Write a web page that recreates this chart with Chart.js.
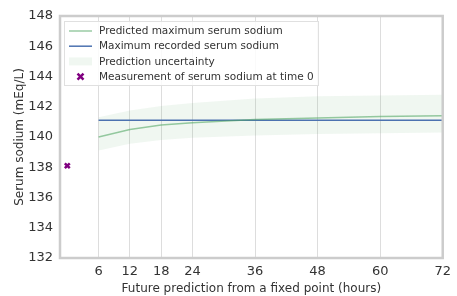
<!DOCTYPE html>
<html lang="en">
<head>
<meta charset="utf-8">
<title>Serum sodium prediction</title>
<script src="https://cdn.jsdelivr.net/npm/chart.js@4"></script>
<style>
  html, body { margin: 0; padding: 0; background: #fff; }
  #wrap { width: 457px; height: 296px; }
</style>
</head>
<body>
<div id="wrap"><canvas id="chart"></canvas></div>
<script>
// values
const hours = [6, 12, 18, 24, 36, 48, 60, 72];
const predicted = [140.0, 140.5, 140.8, 140.95, 141.15, 141.25, 141.35, 141.4];
const recorded = [141.1, 141.1, 141.1, 141.1, 141.1, 141.1, 141.1, 141.1];
const upperBound = [141.3, 141.75, 142.05, 142.25, 142.55, 142.7, 142.75, 142.8];
const lowerBound = [139.1, 139.55, 139.8, 139.95, 140.1, 140.2, 140.25, 140.3];
const measureHour = [0];
const measureValue = [138.1];
const xTicks = [6, 12, 18, 24, 36, 48, 60, 72];
const yTicks = [132, 134, 136, 138, 140, 142, 144, 146, 148];

const FONT = "'DejaVu Sans', sans-serif";
const TEXT = '#333333';

const pts = (xs, ys) => xs.map((x, i) => ({ x: x, y: ys[i] }));

// frame around the plot area, like the seaborn style
const framePlugin = {
  id: 'frame',
  afterDraw(chart) {
    const { ctx, chartArea: a } = chart;
    ctx.save();
    ctx.strokeStyle = '#cccccc';
    ctx.lineWidth = 2.5;
    ctx.strokeRect(a.left, a.top, a.right - a.left, a.bottom - a.top);
    ctx.restore();
  }
};

// legend drawn inside the axes, upper left
const innerLegend = {
  id: 'innerLegend',
  afterDraw(chart) {
    const { ctx, chartArea: a } = chart;
    const ds = chart.data.datasets;
    const x0 = a.left + 4, y0 = a.top + 5, w = 254, h = 64;
    ctx.save();
    ctx.fillStyle = 'rgba(255,255,255,0.85)';
    ctx.fillRect(x0, y0, w, h);
    ctx.strokeStyle = '#e0e0e0';
    ctx.lineWidth = 1;
    ctx.strokeRect(x0 + 0.5, y0 + 0.5, w, h);
    ctx.font = '10.5px ' + FONT;
    ctx.textBaseline = 'middle';
    const items = [ds[0], ds[1], ds[2], ds[4]];
    items.forEach((d, i) => {
      const y = y0 + 10 + i * 15.2;
      const hx = x0 + 5;
      if (i < 2) {
        ctx.strokeStyle = d.borderColor;
        ctx.lineWidth = 1.5;
        ctx.beginPath();
        ctx.moveTo(hx, y);
        ctx.lineTo(hx + 23, y);
        ctx.stroke();
      } else if (i === 2) {
        ctx.fillStyle = d.backgroundColor;
        ctx.fillRect(hx, y - 4, 23, 8);
      } else {
        ctx.strokeStyle = d.borderColor;
        ctx.lineWidth = 2.5;
        ctx.beginPath();
        ctx.moveTo(hx + 8.5, y - 3); ctx.lineTo(hx + 14.5, y + 3);
        ctx.moveTo(hx + 14.5, y - 3); ctx.lineTo(hx + 8.5, y + 3);
        ctx.stroke();
      }
      ctx.fillStyle = TEXT;
      ctx.fillText(d.label, hx + 30, y + 0.5);
    });
    ctx.restore();
  }
};

new Chart(document.getElementById('chart'), {
  type: 'line',
  data: {
    datasets: [
      {
        label: 'Predicted maximum serum sodium',
        data: pts(hours, predicted),
        borderColor: 'rgba(85,168,104,0.6)',
        borderWidth: 1.5,
        pointRadius: 0,
        fill: false,
        order: 1
      },
      {
        label: 'Maximum recorded serum sodium',
        data: pts(hours, recorded),
        borderColor: '#4c72b0',
        borderWidth: 1.5,
        pointRadius: 0,
        fill: false,
        order: 2
      },
      {
        label: 'Prediction uncertainty',
        data: pts(hours, upperBound),
        borderWidth: 0,
        borderColor: 'rgba(0,0,0,0)',
        backgroundColor: 'rgba(85,168,104,0.09)',
        pointRadius: 0,
        fill: '+1',
        order: 5
      },
      {
        label: 'lower',
        data: pts(hours, lowerBound),
        borderWidth: 0,
        borderColor: 'rgba(0,0,0,0)',
        pointRadius: 0,
        fill: false,
        order: 5
      },
      {
        label: 'Measurement of serum sodium at time 0',
        data: pts(measureHour, measureValue),
        showLine: false,
        borderColor: '#800080',
        backgroundColor: '#800080',
        pointStyle: 'crossRot',
        pointRadius: 3.5,
        pointBorderWidth: 2.5,
        order: 0
      }
    ]
  },
  options: {
    responsive: true,
    maintainAspectRatio: false,
    animation: false,
    layout: { padding: { top: 16, right: 8, left: 0, bottom: 0 } },
    plugins: {
      legend: { display: false },
      tooltip: { enabled: false }
    },
    scales: {
      x: {
        type: 'linear',
        min: -1.4,
        max: 72,
        afterBuildTicks(scale) { scale.ticks = xTicks.map(v => ({ value: v })); },
        afterFit(scale) { scale.height = 38; },
        grid: { color: '#dddddd', lineWidth: 1, drawTicks: false },
        border: { display: false },
        ticks: { color: TEXT, font: { family: FONT, size: 13 }, padding: 6, maxRotation: 0 },
        title: {
          display: true,
          text: 'Future prediction from a fixed point (hours)',
          color: TEXT,
          font: { family: FONT, size: 12 },
          padding: { top: 0, bottom: 0 }
        }
      },
      y: {
        min: 132,
        max: 148,
        afterBuildTicks(scale) { scale.ticks = yTicks.map(v => ({ value: v })); },
        afterFit(scale) { scale.width = 60; },
        grid: { display: false, drawTicks: false },
        border: { display: false },
        ticks: { color: TEXT, font: { family: FONT, size: 13 }, padding: 7 },
        title: {
          display: true,
          text: 'Serum sodium (mEq/L)',
          color: TEXT,
          font: { family: FONT, size: 12 },
          padding: { top: 13, bottom: 0 }
        }
      }
    }
  },
  plugins: [framePlugin, innerLegend]
});
</script>
</body>
</html>
